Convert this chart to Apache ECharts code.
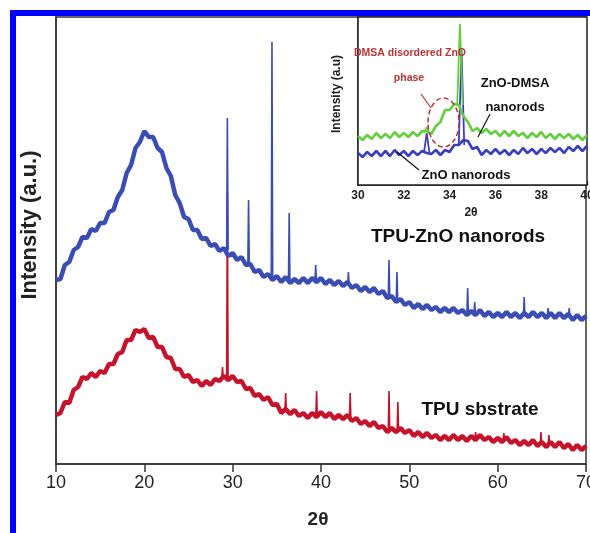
<!DOCTYPE html>
<html><head><meta charset="utf-8">
<script src="https://cdn.jsdelivr.net/npm/echarts@6/dist/echarts.min.js"></script>
<style>html,body{margin:0;padding:0;background:#fff;overflow:hidden;}#c{width:590px;height:533px;}</style>
</head><body><div id="c"></div>
<script>
// ---------- main chart data (2θ in degrees, intensity in a.u.) ----------
const mainX = [10,10.5,11,11.5,12,12.5,13,13.5,14,14.5,15,15.5,16,16.5,17,17.5,18,18.5,19,19.5,
20,20.5,21,21.5,22,22.5,23,23.5,24,24.5,25,25.5,26,26.5,27,27.5,28,28.5,29,29.5,
30,30.5,31,31.5,32,32.5,33,33.5,34,34.5,35,35.5,36,36.5,37,37.5,38,38.5,39,39.5,
40,40.5,41,41.5,42,42.5,43,43.5,44,44.5,45,45.5,46,46.5,47,47.5,48,48.5,49,49.5,
50,50.5,51,51.5,52,52.5,53,53.5,54,54.5,55,55.5,56,56.5,57,57.5,58,58.5,59,59.5,
60,60.5,61,61.5,62,62.5,63,63.5,64,64.5,65,65.5,66,66.5,67,67.5,68,68.5,69,69.5,70];

const tpuZnoY = [184,185,199,202,214,217,227,226,235,233,241,241,252,254,267,274,291,299,316,322,
333,327,327,316,312,296,288,269,261,247,245,234,234,225,226,218,220,213,216,208,
211,204,207,199,200,192,194,187,190,184,188,182,187,181,185,181,186,181,186,182,
186,180,184,179,183,178,182,176,179,173,177,172,176,170,173,166,168,162,165,159,
162,156,160,155,159,154,157,152,156,152,156,151,154,149,153,149,154,148,152,147,
151,147,152,147,151,146,151,147,152,147,151,146,151,146,151,146,150,144,149,144,148];
// sharp reflections: [2θ, top, foot]
const tpuZnoPeaks = [[29.4,346,214],[31.8,264,200],[34.45,422,186],[36.4,251,184],[39.4,199,184],
[43.1,192,179],[47.7,204,168],[48.6,192,164],[56.6,176,152],[57.4,162,151],[63.0,167,149],
[65.7,156,149],[68.1,156,148]];

const tpuY = [49,51,62,61,74,77,87,85,91,87,93,91,100,100,110,112,124,124,134,132,
135,126,127,117,117,107,106,95,95,87,89,82,84,78,83,79,85,83,88,84,
88,82,83,75,76,68,70,64,67,59,60,51,55,50,54,48,51,46,51,47,
52,47,51,45,49,45,49,43,46,40,43,38,42,36,38,32,36,32,36,31,
34,28,32,27,31,26,29,24,28,24,29,24,28,23,28,24,29,24,27,22,
26,22,27,21,24,19,23,19,24,18,22,17,22,17,22,16,20,14,19,14,18];
const tpuPeaks = [[28.85,97,86],[29.4,272,86],[36.0,71,53],[39.5,73,49],[43.3,71,46],[47.7,73,35],
[48.7,62,33],[57.5,32,26],[60.7,31,24],[64.9,32,20],[65.8,29,20]];

const mainTicks = [10,20,30,40,50,60,70];

// ---------- inset data ----------
const insetX = [30,30.2,30.4,30.6,30.8,31,31.2,31.4,31.6,31.8,32,32.2,32.4,32.6,32.8,33,33.2,33.4,33.6,33.8,
34,34.2,34.4,34.6,34.8,35,35.2,35.4,35.6,35.8,36,36.2,36.4,36.6,36.8,37,37.2,37.4,37.6,37.8,
38,38.2,38.4,38.6,38.8,39,39.2,39.4,39.6,39.8,40];
const dmsaY = [49,45,50,46,52,47,51,47,53,48,52,48,53,49,54,54,51,59,63,75,
75,81,80,69,63,54,57,52,56,51,54,49,54,49,54,49,52,47,52,48,
53,47,51,46,51,47,51,46,50,45,50];
const dmsaPeaks = [[33.0,58,52],[34.45,161,80]];
const znoY = [32,28,33,29,34,29,34,29,35,30,34,29,34,30,34,32,31,35,30,35,
33,40,40,45,44,36,38,30,35,31,36,31,35,30,35,31,37,32,36,31,
36,32,37,33,37,32,38,34,39,34,39];
const znoPeaks = [[33.0,52,32],[34.52,135,40]];
const insetTicks = [30,32,34,36,38,40];

function pairs(xs, ys) { return xs.map((x, i) => [x, ys[i]]); }
function peakLines(peaks, hw) {
  const pts = [];
  peaks.forEach(p => {
    pts.push([+(p[0] - hw).toFixed(3), p[2]], [p[0], p[1]], [+(p[0] + hw).toFixed(3), p[2]], [p[0], '-']);
  });
  return pts;
}

const FONT = '"Liberation Sans", Arial, sans-serif';
const chart = echarts.init(document.getElementById('c'), null, {renderer: 'canvas'});

const lineS = (name, data, color, xi, w, z) => ({
  name, type: 'line', data, xAxisIndex: xi, yAxisIndex: xi, showSymbol: false, symbol: 'none',
  connectNulls: false, sampling: 'none', animation: false, z: z,
  lineStyle: {color, width: w, join: 'bevel'}, itemStyle: {color}
});

chart.setOption({
  backgroundColor: '#fff',
  animation: false,
  grid: [
    {left: 56, top: 17, right: 4, bottom: 69, outerBoundsMode: 'none', containLabel: false, show: true, borderColor: '#333', borderWidth: 1.5, backgroundColor: 'transparent', z: 0},
    {left: 358, top: 17, right: 3, bottom: 348, outerBoundsMode: 'none', containLabel: false, show: true, borderColor: '#222', borderWidth: 1.5, backgroundColor: '#fff', z: 5}
  ],
  xAxis: [
    {type: 'value', gridIndex: 0, min: 10, max: 70, interval: 10,
     axisLine: {show: true, lineStyle: {color: '#333', width: 1.5}},
     axisTick: {show: true, inside: false, length: 8, lineStyle: {color: '#333', width: 1.5}},
     axisLabel: {fontSize: 18, color: '#222', fontFamily: FONT, margin: 10, hideOverlap: false,
                 formatter: v => mainTicks.includes(v) ? String(v) : ''},
     splitLine: {show: false}},
    {type: 'value', gridIndex: 1, min: 30, max: 40, interval: 2,
     axisLine: {show: true, lineStyle: {color: '#222', width: 1.5}},
     axisTick: {show: true, inside: true, length: 4, lineStyle: {color: '#222', width: 1.2}},
     axisLabel: {fontSize: 12, fontWeight: 'bold', color: '#222', fontFamily: FONT, margin: 5, hideOverlap: false,
                 formatter: v => insetTicks.includes(v) ? String(v) : ''},
     splitLine: {show: false}}
  ],
  yAxis: [
    {type: 'value', gridIndex: 0, min: 0, max: 447,
     axisLine: {show: true, lineStyle: {color: '#333', width: 1.5}},
     axisTick: {show: false}, axisLabel: {show: false}, splitLine: {show: false}},
    {type: 'value', gridIndex: 1, min: 0, max: 168,
     axisLine: {show: true, lineStyle: {color: '#222', width: 1.5}},
     axisTick: {show: false}, axisLabel: {show: false}, splitLine: {show: false}}
  ],
  series: [
    lineS('TPU sbstrate', pairs(mainX, tpuY), '#c4132b', 0, 4.5, 2),
    lineS('TPU sbstrate peaks', peakLines(tpuPeaks, 0.08), '#c4132b', 0, 1.6, 2),
    lineS('TPU-ZnO nanorods', pairs(mainX, tpuZnoY), '#3a4db3', 0, 4.5, 3),
    lineS('TPU-ZnO nanorods peaks', peakLines(tpuZnoPeaks, 0.08), '#3a4db3', 0, 1.6, 3),
    lineS('ZnO nanorods', pairs(insetX, znoY), '#3a3fbf', 1, 2.6, 6),
    lineS('ZnO nanorods peaks', peakLines(znoPeaks, 0.12), '#3a3fbf', 1, 1.8, 6),
    lineS('ZnO-DMSA nanorods', pairs(insetX, dmsaY), '#63cf3c', 1, 2.6, 7),
    lineS('ZnO-DMSA nanorods peaks', peakLines(dmsaPeaks, 0.12), '#63cf3c', 1, 1.8, 7)
  ],
  graphic: [
    {type: 'rect', shape: {x: 13, y: 13, width: 800, height: 800}, style: {fill: 'none', stroke: '#0000ff', lineWidth: 6}, z: 100, silent: true},
    {type: 'text', x: 30, y: 225, rotation: Math.PI / 2, style: {text: 'Intensity (a.u.)', font: 'bold 22px ' + FONT, fill: '#222', align: 'center', verticalAlign: 'middle'}},
    {type: 'text', x: 318, y: 520, style: {text: '2θ', font: 'bold 19px ' + FONT, fill: '#222', align: 'center', verticalAlign: 'middle'}},
    {type: 'text', x: 458, y: 237, style: {text: 'TPU-ZnO nanorods', font: 'bold 19px ' + FONT, fill: '#111', align: 'center', verticalAlign: 'middle'}},
    {type: 'text', x: 480, y: 410, style: {text: 'TPU sbstrate', font: 'bold 19px ' + FONT, fill: '#111', align: 'center', verticalAlign: 'middle'}},
    {type: 'text', x: 337, y: 94, rotation: Math.PI / 2, style: {text: 'Intensity (a.u)', font: 'bold 12px ' + FONT, fill: '#222', align: 'center', verticalAlign: 'middle'}},
    {type: 'text', x: 471, y: 213, style: {text: '2θ', font: 'bold 12px ' + FONT, fill: '#222', align: 'center', verticalAlign: 'middle'}},
    {type: 'text', x: 410, y: 53, z: 20, style: {text: 'DMSA disordered ZnO', font: 'bold 10.5px ' + FONT, fill: '#b83236', align: 'center', verticalAlign: 'middle'}},
    {type: 'text', x: 409, y: 78, z: 20, style: {text: 'phase', font: 'bold 10.5px ' + FONT, fill: '#b83236', align: 'center', verticalAlign: 'middle'}},
    {type: 'text', x: 515, y: 83, z: 20, style: {text: 'ZnO-DMSA', font: 'bold 13px ' + FONT, fill: '#111', align: 'center', verticalAlign: 'middle'}},
    {type: 'text', x: 515, y: 107, z: 20, style: {text: 'nanorods', font: 'bold 13px ' + FONT, fill: '#111', align: 'center', verticalAlign: 'middle'}},
    {type: 'text', x: 466, y: 175, z: 20, style: {text: 'ZnO nanorods', font: 'bold 13px ' + FONT, fill: '#111', align: 'center', verticalAlign: 'middle'}},
    {type: 'ellipse', z: 20, shape: {cx: 443.5, cy: 122.5, rx: 15.5, ry: 24.5}, style: {fill: 'none', stroke: '#b83236', lineWidth: 1.5, lineDash: [5, 3]}},
    {type: 'line', z: 20, shape: {x1: 421, y1: 94, x2: 431, y2: 108}, style: {stroke: '#b83236', lineWidth: 1.2}},
    {type: 'line', z: 20, shape: {x1: 490, y1: 114, x2: 478, y2: 137}, style: {stroke: '#111', lineWidth: 1.2}},
    {type: 'line', z: 20, shape: {x1: 419, y1: 170, x2: 397, y2: 152}, style: {stroke: '#111', lineWidth: 1.2}}
  ]
});
</script>
</body></html>
